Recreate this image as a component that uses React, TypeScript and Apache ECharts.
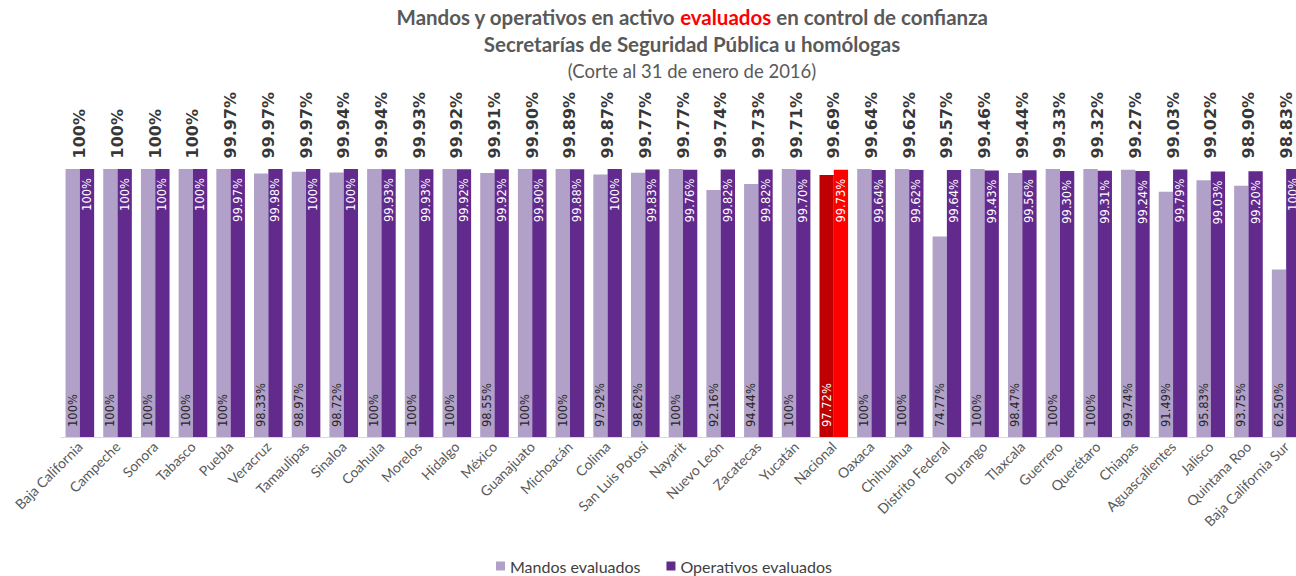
import React, { useEffect, useRef } from "react";
import * as echarts from "echarts";

const categories = [
  "Baja California", "Campeche", "Sonora", "Tabasco", "Puebla", "Veracruz", "Tamaulipas",
  "Sinaloa", "Coahuila", "Morelos", "Hidalgo", "México", "Guanajuato", "Michoacán", "Colima",
  "San Luis Potosí", "Nayarit", "Nuevo León", "Zacatecas", "Yucatán", "Nacional", "Oaxaca",
  "Chihuahua", "Distrito Federal", "Durango", "Tlaxcala", "Guerrero", "Querétaro", "Chiapas",
  "Aguascalientes", "Jalisco", "Quintana Roo", "Baja California Sur",
];

const mandos = [
  100, 100, 100, 100, 100, 98.33, 98.97, 98.72, 100, 100, 100, 98.55, 100, 100, 97.92,
  98.62, 100, 92.16, 94.44, 100, 97.72, 100, 100, 74.77, 100, 98.47, 100, 100, 99.74,
  91.49, 95.83, 93.75, 62.5,
];

const operativos = [
  100, 100, 100, 100, 99.97, 99.98, 100, 100, 99.93, 99.93, 99.92, 99.92, 99.9, 99.88, 100,
  99.83, 99.76, 99.82, 99.82, 99.7, 99.73, 99.64, 99.62, 99.64, 99.43, 99.56, 99.3, 99.31,
  99.24, 99.79, 99.03, 99.2, 100,
];

const totals = [
  100, 100, 100, 100, 99.97, 99.97, 99.97, 99.94, 99.94, 99.93, 99.92, 99.91, 99.9, 99.89,
  99.87, 99.77, 99.77, 99.74, 99.73, 99.71, 99.69, 99.64, 99.62, 99.57, 99.46, 99.44, 99.33,
  99.32, 99.27, 99.03, 99.02, 98.9, 98.83,
];

const highlight = "Nacional";
const seriesNames = ["Mandos evaluados", "Operativos evaluados"];

const fmt = (v: number) => (v === 100 ? "100%" : v.toFixed(2) + "%");

export default function App() {
  const ref = useRef<HTMLDivElement>(null);
  useEffect(() => {
    const chart = echarts.init(ref.current!, null, { renderer: "svg" });
    const LIGHT = "#B1A0C7";
    const DARK = "#622A8C";
    const yMax = 100;
    chart.setOption({
      animation: false,
      backgroundColor: "#ffffff",
      title: [
        {
          text: "{a|Mandos y operativos en activo }{r|evaluados}{a| en control de confianza}",
          left: 692,
          top: 6,
          padding: 0,
          textAlign: "center",
          textStyle: {
            rich: {
              a: { fontFamily: "Lato", fontWeight: "bold", fontSize: 20.5, color: "#595959" },
              r: { fontFamily: "Lato", fontWeight: "bold", fontSize: 20.5, color: "#FF0000" },
            },
          },
        },
        {
          text: "Secretarías de Seguridad Pública u homólogas",
          left: 692,
          top: 33,
          padding: 0,
          textAlign: "center",
          textStyle: { fontFamily: "Lato", fontWeight: "bold", fontSize: 20.5, color: "#595959" },
        },
        {
          text: "(Corte al 31 de enero de 2016)",
          left: 692,
          top: 61,
          padding: 0,
          textAlign: "center",
          textStyle: { fontFamily: "Lato", fontWeight: "normal", fontSize: 18.5, color: "#595959" },
        },
      ],
      legend: {
        data: seriesNames,
        left: 496,
        top: 558,
        padding: 0,
        itemWidth: 9,
        itemHeight: 9,
        itemGap: 26,
        icon: "rect",
        textStyle: { fontFamily: "Lato", fontSize: 16, color: "#404040" },
      },
      grid: { left: 61, right: 0, top: 169, bottom: 139, containLabel: false },
      xAxis: {
        type: "category",
        data: categories,
        axisTick: { show: false },
        axisLine: { lineStyle: { color: "#D9D9D9", width: 1 } },
        axisLabel: {
          interval: 0,
          rotate: 45,
          margin: 7,
          color: "#595959",
          fontFamily: "Lato",
          fontSize: 14,
        },
      },
      yAxis: { type: "value", min: 0, max: yMax, show: false, splitLine: { show: false } },
      series: [
        {
          name: seriesNames[0],
          type: "bar",
          barWidth: 14.3,
          barGap: "0%",
          itemStyle: { color: LIGHT },
          data: mandos.map((v, i) => ({
            value: v,
            itemStyle: { color: categories[i] === highlight ? "#C00000" : LIGHT },
            label: { color: categories[i] === highlight ? "#ffffff" : "#262626" },
          })),
          label: {
            show: true,
            position: "insideBottom",
            distance: 10,
            rotate: 90,
            align: "left",
            verticalAlign: "middle",
            fontFamily: "DejaVu Sans",
            fontSize: 11.5,
            formatter: (p: any) => fmt(p.value),
          },
        },
        {
          name: seriesNames[1],
          type: "bar",
          barWidth: 14.3,
          barGap: "0%",
          itemStyle: { color: DARK },
          data: operativos.map((v, i) => ({
            value: v,
            itemStyle: { color: categories[i] === highlight ? "#FF0000" : DARK },
          })),
          label: {
            show: true,
            position: "insideTop",
            distance: 9,
            rotate: 90,
            align: "right",
            verticalAlign: "middle",
            color: "#ffffff",
            fontFamily: "DejaVu Sans",
            fontSize: 11.5,
            formatter: (p: any) => fmt(p.value),
          },
        },
        {
          name: "Total",
          type: "scatter",
          symbolSize: 1,
          itemStyle: { color: "rgba(0,0,0,0)" },
          silent: true,
          data: totals.map((t) => ({ value: yMax, total: t })),
          label: {
            show: true,
            position: "top",
            distance: 10,
            rotate: 90,
            align: "left",
            verticalAlign: "middle",
            color: "#000000",
            fontFamily: "DejaVu Sans",
            fontWeight: "bold",
            fontSize: 16,
            formatter: (p: any) => fmt(p.data.total),
          },
        },
      ],
    });
    return () => chart.dispose();
  }, []);
  return (
    <div
      style={{ position: "fixed", left: 0, top: 0, width: 1296, height: 576, overflow: "hidden" }}
    >
      <div ref={ref} style={{ width: 1305, height: 576 }} />
    </div>
  );
}
